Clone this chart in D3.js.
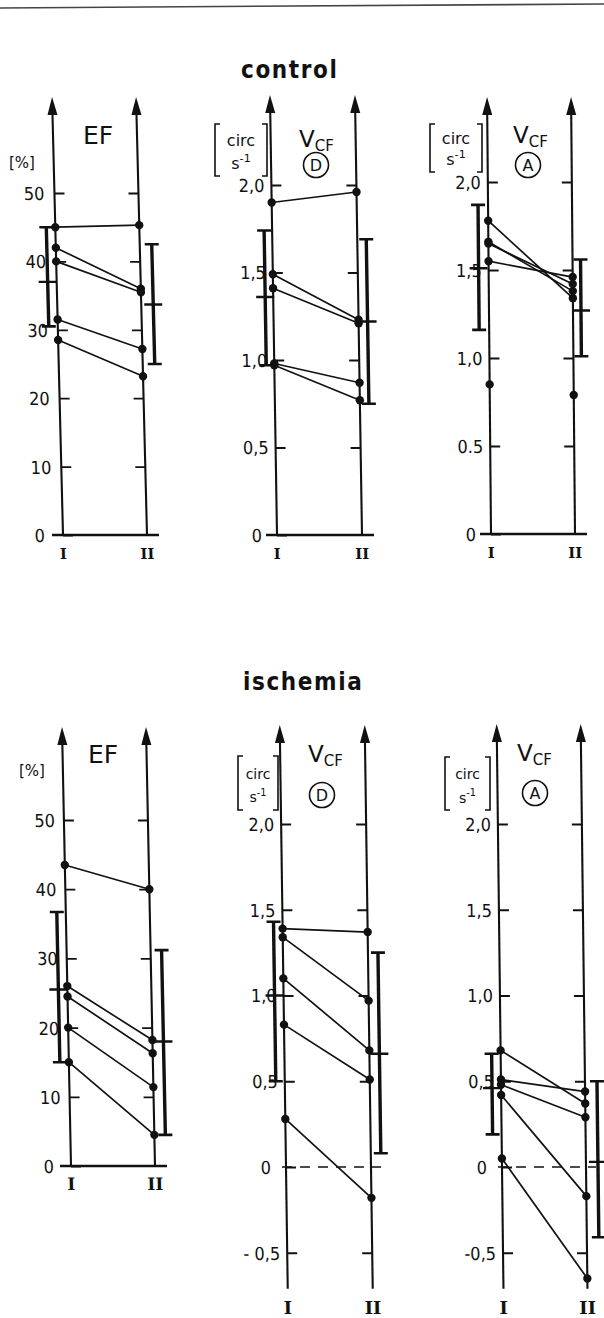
<!DOCTYPE html>
<html><head><meta charset="utf-8">
<script src="https://cdn.jsdelivr.net/npm/d3@7"></script>
<style>
body{margin:0;background:#fff;}
svg{display:block;background:#fff;}
</style></head><body>
<svg id="chart" width="604" height="1318"></svg>
<script>
// ---------------- DATA ----------------
const phases = ["I", "II"];

// control – ejection fraction [%]
const ctrlEF_I  = [45, 42, 40, 31.5, 28.5];
const ctrlEF_II = [45.3, 36, 35.5, 27.2, 23.2];
const ctrlEF_errI  = [30.5, 37, 45];      // [low, mean, high]
const ctrlEF_errII = [25, 33.7, 42.5];

// control – VCF (D)
const ctrlD_I  = [1.90, 1.49, 1.41, 0.98, 0.97];
const ctrlD_II = [1.96, 1.23, 1.21, 0.87, 0.77];
const ctrlD_errI  = [0.97, 1.36, 1.74];
const ctrlD_errII = [0.75, 1.22, 1.69];

// control – VCF (A)
const ctrlA_I  = [1.78, 1.66, 1.65, 1.55];
const ctrlA_II = [1.34, 1.38, 1.42, 1.46];
const ctrlA_unlinkedI  = [0.85];
const ctrlA_unlinkedII = [0.79];
const ctrlA_errI  = [1.16, 1.51, 1.87];
const ctrlA_errII = [1.01, 1.27, 1.56];

// ischemia – ejection fraction [%]
const ischEF_I  = [43.5, 26, 24.5, 20, 15];
const ischEF_II = [40, 18.2, 16.3, 11.4, 4.5];
const ischEF_errI  = [15, 25.5, 36.7];
const ischEF_errII = [4.5, 18, 31.2];

// ischemia – VCF (D)
const ischD_I  = [1.39, 1.34, 1.10, 0.83, 0.28];
const ischD_II = [1.37, 0.97, 0.68, 0.51, -0.18];
const ischD_errI  = [0.50, 1.00, 1.43];
const ischD_errII = [0.08, 0.66, 1.25];

// ischemia – VCF (A)
const ischA_I  = [0.68, 0.51, 0.48, 0.42, 0.05];
const ischA_II = [0.37, 0.44, 0.29, -0.17, -0.65];
const ischA_errI  = [0.19, 0.46, 0.66];
const ischA_errII = [-0.41, 0.03, 0.50];

// ticks
const efTicks = [0, 10, 20, 30, 40, 50];
const efTickLabels = ["0", "10", "20", "30", "40", "50"];
const vcfTicks = [0, 0.5, 1, 1.5, 2];
const vcfTickLabels = ["0", "0,5", "1,0", "1,5", "2,0"];
const vcfTickLabelsA = ["0", "0.5", "1,0", "1,5", "2,0"];
const vcfTicksNeg = [-0.5, 0, 0.5, 1, 1.5, 2];
const vcfTickLabelsNegD = ["- 0,5", "0", "0,5", "1,0", "1,5", "2,0"];
const vcfTickLabelsNegA = ["-0,5", "0", "0,5", "1,0", "1,5", "2,0"];

// ---------------- LAYOUT ----------------
const svg = d3.select("#chart");
const INK = "#111";
const numFont = "'DejaVu Sans Condensed','DejaVu Sans',sans-serif";

svg.append("line").attr("x1", 0).attr("y1", 8).attr("x2", 604).attr("y2", 4)
  .attr("stroke", "#444").attr("stroke-width", 1.6);

const panels = [
  {I: ctrlEF_I, II: ctrlEF_II, eI: ctrlEF_errI, eII: ctrlEF_errII, ticks: efTicks, labels: efTickLabels,
   dmax: 50, y0: 535, yTop: 193, arrowY: 97, bottom: 0, x: [63, 147], skew: 0.025, errDx: [-9, 12],
   base: "solid", pad: 10, romanY: 24, romanSize: 15},
  {I: ctrlD_I, II: ctrlD_II, eI: ctrlD_errI, eII: ctrlD_errII, ticks: vcfTicks, labels: vcfTickLabels,
   dmax: 2, y0: 535, yTop: 185, arrowY: 95, bottom: 0, x: [277, 362], skew: 0.016, errDx: [-8, 9],
   base: "solid", pad: 7, romanY: 24, romanSize: 15},
  {I: ctrlA_I, II: ctrlA_II, eI: ctrlA_errI, eII: ctrlA_errII, ticks: vcfTicks, labels: vcfTickLabelsA,
   dmax: 2, y0: 534, yTop: 182, arrowY: 97, bottom: 0, x: [491, 575], skew: 0.009, errDx: [-10, 8],
   base: "solid", pad: 7, romanY: 24, romanSize: 15, loneI: ctrlA_unlinkedI, loneII: ctrlA_unlinkedII},
  {I: ischEF_I, II: ischEF_II, eI: ischEF_errI, eII: ischEF_errII, ticks: efTicks, labels: efTickLabels,
   dmax: 50, y0: 1166, yTop: 820, arrowY: 727, bottom: 0, x: [71, 155], skew: 0.0205, errDx: [-9, 11],
   base: "solid", pad: 9, romanY: 24, romanSize: 17},
  {I: ischD_I, II: ischD_II, eI: ischD_errI, eII: ischD_errII, ticks: vcfTicksNeg, labels: vcfTickLabelsNegD,
   dmax: 2, y0: 1167, yTop: 824, arrowY: 725, bottom: -0.71, x: [286, 371], skew: 0.0142, errDx: [-9, 10],
   base: "dashed", pad: 7, romanY: 147, romanSize: 18},
  {I: ischA_I, II: ischA_II, eI: ischA_errI, eII: ischA_errII, ticks: vcfTicksNeg, labels: vcfTickLabelsNegA,
   dmax: 2, y0: 1167, yTop: 824, arrowY: 724, bottom: -0.71, x: [502, 586], skew: 0.012, errDx: [-9, 12],
   base: "dashed", pad: 7, romanY: 147, romanSize: 18}
];

panels.forEach(p => {
  const ang = Math.atan(p.skew) * 180 / Math.PI;
  const g = svg.append("g").attr("transform", `translate(0,${p.y0}) skewX(${ang})`);
  const y = d3.scaleLinear().domain([0, p.dmax]).range([0, p.yTop - p.y0]);
  const x = d3.scalePoint().domain(phases).range(p.x);
  const tipY = p.arrowY - p.y0;

  // baseline at 0
  if (p.base === "solid") {
    g.append("line").attr("x1", x("I") - 11).attr("x2", x("II") + 12)
      .attr("y1", y(0)).attr("y2", y(0)).attr("stroke", INK).attr("stroke-width", 2.3);
  } else {
    g.append("line").attr("x1", x("I") - 4).attr("x2", x("II") + 10)
      .attr("y1", y(0)).attr("y2", y(0)).attr("stroke", INK).attr("stroke-width", 1.6)
      .attr("stroke-dasharray", "10,8");
  }

  // axes with arrows
  phases.forEach(ph => {
    g.append("line").attr("x1", x(ph)).attr("x2", x(ph))
      .attr("y1", y(p.bottom)).attr("y2", tipY + 10)
      .attr("stroke", INK).attr("stroke-width", 2.1);
    g.append("path")
      .attr("d", `M${x(ph)},${tipY} L${x(ph) - 5},${tipY + 18} L${x(ph) + 5},${tipY + 18} Z`)
      .attr("fill", INK);
  });

  // left axis ticks (inward) with labels
  const axL = d3.axisLeft(y).tickValues(p.ticks)
    .tickFormat((d, i) => p.labels[i]).tickSizeInner(-10).tickSizeOuter(0).tickPadding(p.pad);
  const gl = g.append("g").attr("transform", `translate(${x("I")},0)`).call(axL);
  gl.select(".domain").remove();
  gl.selectAll(".tick line").attr("stroke", INK).attr("stroke-width", 1.8);
  gl.selectAll(".tick text").attr("fill", INK).attr("font-family", numFont)
    .attr("font-size", 18).attr("dy", "0.36em")
    .attr("dx", d => d === 0 ? -8 : 0);

  // right axis ticks (inward, no labels)
  const axR = d3.axisLeft(y).tickValues(p.ticks.filter(v => v !== 0))
    .tickFormat("").tickSize(10).tickSizeOuter(0);
  const gr = g.append("g").attr("transform", `translate(${x("II")},0)`).call(axR);
  gr.select(".domain").remove();
  gr.selectAll(".tick line").attr("stroke", INK).attr("stroke-width", 1.8);

  // error bars
  [["I", p.eI, p.errDx[0]], ["II", p.eII, p.errDx[1]]].forEach(([ph, e, dx]) => {
    const ex = x(ph) + dx;
    g.append("line").attr("x1", ex).attr("x2", ex).attr("y1", y(e[0])).attr("y2", y(e[2]))
      .attr("stroke", INK).attr("stroke-width", 3.4);
    [e[0], e[2]].forEach(v => g.append("line").attr("x1", ex - 7).attr("x2", ex + 7)
      .attr("y1", y(v)).attr("y2", y(v)).attr("stroke", INK).attr("stroke-width", 2.6));
    g.append("line").attr("x1", ex - 9).attr("x2", ex + 9)
      .attr("y1", y(e[1])).attr("y2", y(e[1])).attr("stroke", INK).attr("stroke-width", 2.4);
  });

  // individual lines
  p.I.forEach((v, i) => {
    g.append("line").attr("x1", x("I")).attr("y1", y(v)).attr("x2", x("II")).attr("y2", y(p.II[i]))
      .attr("stroke", INK).attr("stroke-width", 1.7);
  });
  const dots = [];
  p.I.forEach(v => dots.push(["I", v]));
  p.II.forEach(v => dots.push(["II", v]));
  if (p.loneI) p.loneI.forEach(v => dots.push(["I", v]));
  if (p.loneII) p.loneII.forEach(v => dots.push(["II", v]));
  g.selectAll("circle.pt").data(dots).enter().append("circle").attr("class", "pt")
    .attr("cx", d => x(d[0])).attr("cy", d => y(d[1])).attr("r", 4.2).attr("fill", INK);

  // roman numerals
  phases.forEach(ph => {
    g.append("text").attr("x", x(ph)).attr("y", p.romanY)
      .attr("text-anchor", "middle").attr("font-family", "'DejaVu Serif',serif")
      .attr("font-weight", "bold").attr("font-size", p.romanSize).attr("fill", INK).text(ph);
  });
});

// ---------------- TEXT LABELS ----------------
function title(t, x, yb) {
  svg.append("text").attr("x", x).attr("y", yb).attr("font-family", "'DejaVu Sans Condensed','DejaVu Sans',sans-serif")
    .attr("font-weight", "bold").attr("font-size", 24).attr("letter-spacing", 1.6).attr("fill", INK).text(t);
}
title("control", 241, 78);
title("ischemia", 243, 690);

function efLabels(xp, ybp, xe, ybe) {
  svg.append("text").attr("x", xp).attr("y", ybp).attr("font-family", "'DejaVu Sans',sans-serif")
    .attr("font-size", 15).attr("fill", INK).text("[%]");
  svg.append("text").attr("x", xe).attr("y", ybe).attr("font-family", "'DejaVu Sans',sans-serif")
    .attr("font-size", 25).attr("fill", INK).text("EF");
}
efLabels(9, 168, 83, 144);
efLabels(19, 776, 88, 763);

function unitBracket(x0, x1, y0, y1, fs) {
  const g = svg.append("g");
  const s = 5;
  g.append("path").attr("d", `M${x0 + s},${y0} H${x0} V${y1} H${x0 + s} M${x1 - s},${y0} H${x1} V${y1} H${x1 - s}`)
    .attr("fill", "none").attr("stroke", INK).attr("stroke-width", 1.6);
  const cx = (x0 + x1) / 2, h = y1 - y0;
  g.append("text").attr("x", cx).attr("y", y0 + h * 0.42).attr("text-anchor", "middle")
    .attr("font-family", "'DejaVu Sans',sans-serif").attr("font-size", fs).attr("fill", INK).text("circ");
  const t = g.append("text").attr("x", cx).attr("y", y0 + h * 0.86).attr("text-anchor", "middle")
    .attr("font-family", "'DejaVu Sans',sans-serif").attr("font-size", fs).attr("fill", INK);
  t.append("tspan").text("s");
  t.append("tspan").attr("dy", -fs * 0.45).attr("font-size", fs * 0.7).text("-1");
}
unitBracket(215, 267, 124, 176, 16);
unitBracket(430, 482, 124, 172, 16);
unitBracket(238, 278, 756, 810, 14);
unitBracket(445, 490, 757, 810, 14);

function vcf(x, yb, cx, cy, letter) {
  const t = svg.append("text").attr("x", x).attr("y", yb).attr("font-family", "'DejaVu Sans',sans-serif")
    .attr("font-size", 23).attr("fill", INK);
  t.append("tspan").text("V");
  t.append("tspan").attr("dy", 4).attr("font-size", 15).text("CF");
  svg.append("circle").attr("cx", cx).attr("cy", cy).attr("r", 12.5)
    .attr("fill", "none").attr("stroke", INK).attr("stroke-width", 1.6);
  svg.append("text").attr("x", cx).attr("y", cy).attr("dy", "0.36em").attr("text-anchor", "middle")
    .attr("font-family", "'DejaVu Sans',sans-serif").attr("font-size", 16).attr("fill", INK).text(letter);
}
vcf(299, 147, 316, 165, "D");
vcf(513, 143, 528, 165, "A");
vcf(308, 762, 322, 795, "D");
vcf(517, 761, 535, 793, "A");
</script>
</body></html>
